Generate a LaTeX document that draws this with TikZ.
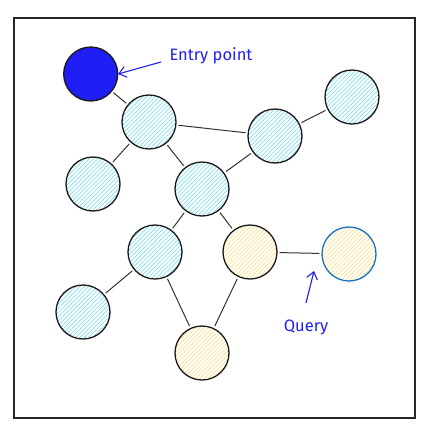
\documentclass[tikz,border=0pt]{standalone}
\usepackage{fontspec}
\setsansfont{Fira Sans}
\usetikzlibrary{patterns.meta,arrows.meta}
\definecolor{hatchblue}{HTML}{7FDDEE}
\definecolor{hatchyellow}{HTML}{FFE08A}
\definecolor{entryblue}{HTML}{1E1EF5}
\definecolor{queryblue}{HTML}{1971C2}
\definecolor{inkblue}{HTML}{2020F0}
\begin{document}
\begin{tikzpicture}[x=1pt,y=-1pt,
  vertex/.style={circle,draw=black!90,line width=1.3pt,minimum size=54pt,inner sep=0pt,
    pattern={Lines[angle=45,distance=3pt,line width=0.7pt]},pattern color=hatchblue},
  yvertex/.style={vertex,pattern color=hatchyellow},
  edge/.style={draw=black!80,line width=1pt,shorten <=2pt,shorten >=2pt},
  note/.style={font=\sffamily\fontsize{16.5}{19}\selectfont,text=inkblue,inner sep=0pt},
  pointer/.style={draw=inkblue,line width=1.1pt,-{Straight Barb[length=7pt,width=11pt]}}]
\useasboundingbox (0,0) rectangle (423,426);
\draw[line width=1.2pt,black!85] (14,18) rectangle (415,418);

% vertices
\node[vertex,fill=entryblue] (entry) at (90.7,74) {};
\node[vertex] (a) at (149,122) {};
\node[vertex] (b) at (275,136) {};
\node[vertex] (c) at (352,97) {};
\node[vertex] (d) at (93,184) {};
\node[vertex] (e) at (202,189) {};
\node[vertex] (f) at (155,252) {};
\node[yvertex] (g) at (250,252) {};
\node[yvertex,draw=queryblue] (q) at (349,254) {};
\node[vertex] (h) at (83,312) {};
\node[yvertex] (i) at (202,353) {};

% edges
\draw[edge] (entry) -- (a);
\draw[edge] (a) -- (b);
\draw[edge] (a) -- (d);
\draw[edge] (a) -- (e);
\draw[edge] (b) -- (c);
\draw[edge] (b) -- (e);
\draw[edge] (e) -- (f);
\draw[edge] (e) -- (g);
\draw[edge] (g) -- (q);
\draw[edge] (f) -- (h);
\draw[edge] (f) -- (i);
\draw[edge] (g) -- (i);

% labels
\node[note] (entrylabel) at (211,56) {Entry point};
\coordinate (entrytail) at (161,62);
\draw[pointer] (entrytail) -- (entry.east);
\node[note] (querylabel) at (306,327) {Query};
\coordinate (querytail) at (306,303);
\coordinate (queryhead) at (314,271);
\draw[pointer] (querytail) -- (queryhead);
\end{tikzpicture}
\end{document}
